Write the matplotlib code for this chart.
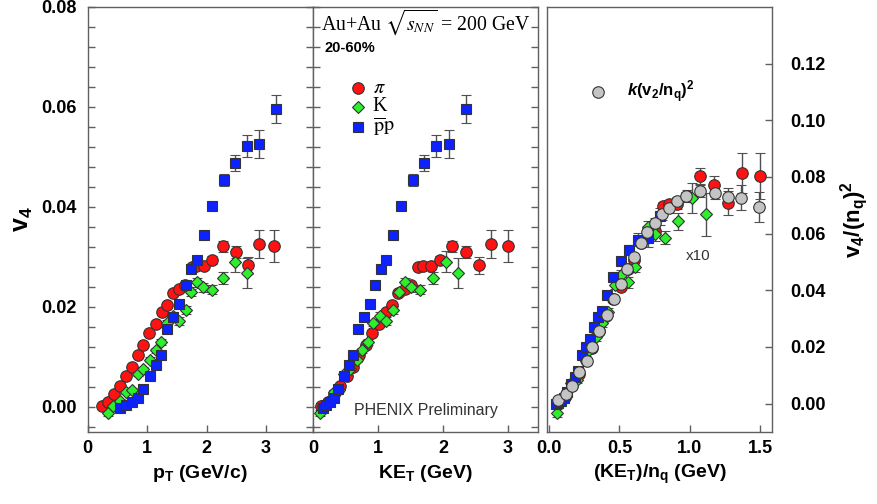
import matplotlib.pyplot as plt
from matplotlib.ticker import MultipleLocator, FormatStrFormatter

plt.rcParams['font.family'] = ['Liberation Sans', 'DejaVu Sans']
plt.rcParams['axes.labelweight'] = 'bold'
plt.rcParams['mathtext.fontset'] = 'custom'
plt.rcParams['mathtext.rm'] = 'Liberation Sans:bold'
plt.rcParams['mathtext.bf'] = 'Liberation Sans:bold'
plt.rcParams['mathtext.it'] = 'Liberation Sans:bold:italic'

# ---- pions ----
pt_pi = [0.24, 0.35, 0.45, 0.55, 0.65, 0.74, 0.84, 0.94, 1.04, 1.15, 1.25, 1.34,
         1.44, 1.54, 1.64, 1.75, 1.83, 1.95, 2.09, 2.28, 2.49, 2.69, 2.88, 3.14]
ke_pi = [0.13, 0.23, 0.33, 0.42, 0.52, 0.61, 0.71, 0.81, 0.91, 1.02, 1.12, 1.21,
         1.31, 1.41, 1.51, 1.62, 1.70, 1.82, 1.96, 2.14, 2.35, 2.55, 2.74, 3.00]
v4_pi = [0.0001, 0.0009, 0.0026, 0.0042, 0.0062, 0.0079, 0.0103, 0.0123, 0.0147, 0.0165,
         0.0190, 0.0203, 0.0227, 0.0235, 0.0244, 0.0279, 0.0282, 0.0281, 0.0293, 0.0321,
         0.0309, 0.0283, 0.0326, 0.0321]
err_pi = [0.0003] * 10 + [0.0004, 0.0004, 0.0004, 0.0004, 0.0005, 0.0005, 0.0005, 0.0006,
                          0.0008, 0.0011, 0.0012, 0.0017, 0.0028, 0.0032]

# ---- kaons ----
pt_k = [0.34, 0.43, 0.54, 0.64, 0.74, 0.84, 0.94, 1.05, 1.15, 1.24, 1.34, 1.44, 1.54,
        1.65, 1.74, 1.84, 1.94, 2.09, 2.28, 2.48, 2.68]
ke_k = [0.11, 0.16, 0.24, 0.32, 0.40, 0.48, 0.57, 0.67, 0.76, 0.84, 0.93, 1.03, 1.12,
        1.23, 1.32, 1.41, 1.51, 1.65, 1.84, 2.04, 2.23]
v4_k = [-0.0013, 0.0001, 0.0011, 0.0029, 0.0033, 0.0065, 0.0075, 0.0094, 0.0113, 0.0129,
        0.0167, 0.0181, 0.0171, 0.0193, 0.0229, 0.0249, 0.0239, 0.0234, 0.0257, 0.0290, 0.0267]
err_k = [0.0006, 0.0004, 0.0004, 0.0004, 0.0004, 0.0004, 0.0004, 0.0005, 0.0005, 0.0006,
         0.0006, 0.0008, 0.0008, 0.0008, 0.0007, 0.0009, 0.0009, 0.0009, 0.0012, 0.0021, 0.0030]

# ---- anti-protons + protons ----
pt_p = [0.55, 0.64, 0.74, 0.84, 0.94, 1.05, 1.15, 1.24, 1.34, 1.44, 1.54, 1.65, 1.74,
        1.84, 1.95, 2.09, 2.29, 2.48, 2.68, 2.89, 3.16]
ke_p = [0.15, 0.20, 0.26, 0.32, 0.39, 0.47, 0.55, 0.62, 0.70, 0.78, 0.87, 0.96, 1.04,
        1.13, 1.23, 1.35, 1.54, 1.71, 1.90, 2.10, 2.36]
v4_p = [-0.0003, 0.0003, 0.0009, 0.0017, 0.0036, 0.0062, 0.0084, 0.0103, 0.0155, 0.0179,
        0.0206, 0.0244, 0.0275, 0.0294, 0.0344, 0.0402, 0.0453, 0.0487, 0.0521, 0.0526, 0.0595]
err_p = [0.0003] * 13 + [0.0004, 0.0008, 0.0006, 0.0012, 0.0016, 0.0022, 0.0028, 0.0028]

# ---- scaled panel: (KE_T)/n_q vs v4/(n_q)^2 (x10) ----
x_pi = [0.065, 0.115, 0.165, 0.21, 0.26, 0.305, 0.355, 0.405, 0.455, 0.51, 0.56, 0.605,
        0.655, 0.705, 0.755, 0.81, 0.85, 0.91, 0.98, 1.07, 1.175, 1.275, 1.37, 1.50]
y_pi = [0.0003, 0.0023, 0.0065, 0.0105, 0.0155, 0.0198, 0.0258, 0.0308, 0.0368, 0.0413,
        0.0475, 0.0508, 0.0568, 0.0588, 0.0610, 0.0698, 0.0705, 0.0703, 0.0733, 0.0803,
        0.0773, 0.0708, 0.0815, 0.0803]
ey_pi = [0.0008] * 10 + [0.0010, 0.0010, 0.0010, 0.0010, 0.0013, 0.0013, 0.0013, 0.0015,
                         0.0020, 0.0028, 0.0030, 0.0043, 0.0070, 0.0080]

x_k = [0.053, 0.08, 0.119, 0.158, 0.198, 0.24, 0.284, 0.333, 0.379, 0.42, 0.467, 0.514,
       0.561, 0.614, 0.658, 0.706, 0.754, 0.827, 0.92, 1.018, 1.116]
y_k = [-0.0033, 0.0003, 0.0028, 0.0073, 0.0083, 0.0163, 0.0188, 0.0235, 0.0283, 0.0323,
       0.0418, 0.0453, 0.0428, 0.0483, 0.0573, 0.0623, 0.0598, 0.0585, 0.0643, 0.0725, 0.0668]
ey_k = [0.0015, 0.0010, 0.0010, 0.0010, 0.0010, 0.0010, 0.0010, 0.0013, 0.0013, 0.0015,
        0.0015, 0.0020, 0.0020, 0.0020, 0.0018, 0.0023, 0.0023, 0.0023, 0.0030, 0.0053, 0.0075]

x_p = [0.050, 0.066, 0.086, 0.107, 0.130, 0.157, 0.182, 0.206, 0.233, 0.260, 0.288, 0.320,
       0.346, 0.376, 0.409, 0.451, 0.512, 0.571, 0.634, 0.700, 0.786]
y_p = [-0.0003, 0.0003, 0.0010, 0.0019, 0.0040, 0.0069, 0.0093, 0.0114, 0.0172, 0.0199,
       0.0229, 0.0271, 0.0306, 0.0327, 0.0382, 0.0447, 0.0503, 0.0541, 0.0579, 0.0584, 0.0661]
ey_p = [0.0003] * 13 + [0.0004, 0.0009, 0.0007, 0.0013, 0.0018, 0.0024, 0.0031, 0.0031]

# k(v2/nq)^2 points
x_v2 = [0.066, 0.119, 0.161, 0.214, 0.268, 0.308, 0.354, 0.411, 0.458, 0.508, 0.555, 0.607,
        0.655, 0.697, 0.750, 0.804, 0.852, 0.911, 0.970, 1.072, 1.177, 1.274, 1.362, 1.493]
y_v2 = [0.0012, 0.0035, 0.0063, 0.0111, 0.0152, 0.0199, 0.0257, 0.0312, 0.0368, 0.0423,
        0.0476, 0.0519, 0.0566, 0.0605, 0.0636, 0.0669, 0.0692, 0.0716, 0.0733, 0.0751,
        0.0745, 0.0730, 0.0727, 0.0695]
ey_v2 = [0.0006] * 8 + [0.0008] * 4 + [0.0010, 0.0015, 0.0020, 0.0020, 0.0018, 0.0015,
                                         0.0015, 0.0020, 0.0022, 0.0030, 0.0043, 0.0053]

RED = '#ff1212'
GREEN = '#2df02d'
BLUE = '#0c22ff'
GRAY = '#c4c4c4'
EDGE = '#333333'
FRAME = '#606060'


def draw(ax, x, y, e, color, marker, ms):
    ax.errorbar(x, y, yerr=e, fmt=marker, ls='none', ms=ms, mfc=color, mec=EDGE, mew=0.8,
                ecolor='#505050', elinewidth=1, capsize=3.5, capthick=1)


def frame(ax):
    for s in ax.spines.values():
        s.set_color(FRAME)
        s.set_linewidth(1.0)
    ax.tick_params(which='both', direction='in', color=FRAME, width=1, labelsize=13)
    ax.tick_params(which='both', length=5)
    ax.tick_params(axis='x', which='both', top=False, pad=6)


def bold_ticks(ax):
    for lab in ax.get_xticklabels() + ax.get_yticklabels():
        lab.set_fontweight('bold')


fig = plt.figure(figsize=(8.78, 5.04), dpi=100)
ax1 = fig.add_axes([0.0997, 0.1429, 0.2568, 0.8433])
ax2 = fig.add_axes([0.3565, 0.1429, 0.2568, 0.8433])
ax3 = fig.add_axes([0.6230, 0.1429, 0.2563, 0.8433])

# left: v4 vs pT
draw(ax1, pt_pi, v4_pi, err_pi, RED, 'o', 8.3)
draw(ax1, pt_k, v4_k, err_k, GREEN, 'D', 6.5)
draw(ax1, pt_p, v4_p, err_p, BLUE, 's', 7.3)

# middle: v4 vs KE_T
draw(ax2, ke_pi, v4_pi, err_pi, RED, 'o', 8.3)
draw(ax2, ke_k, v4_k, err_k, GREEN, 'D', 6.5)
draw(ax2, ke_p, v4_p, err_p, BLUE, 's', 7.3)

# right: scaled
draw(ax3, x_pi, y_pi, ey_pi, RED, 'o', 8.3)
draw(ax3, x_k, y_k, ey_k, GREEN, 'D', 6.5)
draw(ax3, x_p, y_p, ey_p, BLUE, 's', 7.3)
draw(ax3, x_v2, y_v2, ey_v2, GRAY, 'o', 8.3)

for ax in (ax1, ax2):
    frame(ax)
    ax.set_ylim(-0.005, 0.08)
    ax.yaxis.set_major_locator(MultipleLocator(0.02))
    ax.yaxis.set_minor_locator(MultipleLocator(0.004))
    ax.xaxis.set_major_locator(MultipleLocator(1))
    ax.tick_params(axis='y', which='both', left=True, right=True)

ax1.set_xlim(0, 3.79)
ax2.set_xlim(0, 3.47)
ax1.yaxis.set_major_formatter(FormatStrFormatter('%.2f'))
ax1.tick_params(axis='y', pad=7.5)
ax2.tick_params(axis='y', labelleft=False)

frame(ax3)
ax3.set_xlim(-0.015, 1.585)
ax3.set_ylim(-0.01, 0.14)
ax3.xaxis.set_major_locator(MultipleLocator(0.5))
ax3.xaxis.set_major_formatter(FormatStrFormatter('%.1f'))
ax3.yaxis.set_major_formatter(FormatStrFormatter('%.2f'))
ax3.yaxis.tick_right()
ax3.yaxis.set_label_position('right')
ax3.tick_params(axis='y', left=False, right=True, pad=13)
ax3.set_yticks([0.0, 0.02, 0.04, 0.06, 0.08, 0.10, 0.12])

for ax in (ax1, ax2, ax3):
    bold_ticks(ax)

# axis labels
ax1.set_xlabel(r"p$_\mathregular{T}$ (GeV/c)", fontsize=14, labelpad=4)
ax2.set_xlabel(r"KE$_\mathregular{T}$ (GeV)", fontsize=14, labelpad=4)
ax3.set_xlabel(r"(KE$_\mathregular{T}$)/n$_\mathregular{q}$ (GeV)", fontsize=14, labelpad=4)
ax1.set_ylabel(r"v$_\mathregular{4}$", fontsize=18, labelpad=5)
ax3.set_ylabel(r"v$_\mathregular{4}$/(n$_\mathregular{q}$)$^\mathregular{2}$", fontsize=16,
               labelpad=9)

# annotations in the middle panel
ax2.text(0.035, 0.965, r"Au+Au $\sqrt{s_{NN}}$ = 200 GeV", transform=ax2.transAxes,
         family='Liberation Serif', math_fontfamily='stix', fontsize=14.2,
         va='center', ha='left')
ax2.text(0.053, 0.904, "20-60%", transform=ax2.transAxes, fontsize=10.5, weight='bold',
         va='center')
ax2.text(0.5, 0.05, "PHENIX Preliminary", transform=ax2.transAxes, fontsize=11.5,
         color='#333333', ha='center', va='center')

# hand-placed legend
leg_items = [(RED, 'o', 8.3, r"$\pi$", 0.809), (GREEN, 'D', 6.5, "K", 0.765),
             (BLUE, 's', 7.3, r"$\mathrm{\overline{p}p}$", 0.718)]
for color, marker, ms, label, ly in leg_items:
    ax2.plot([0.2], [ly], marker=marker, ms=ms, mfc=color, mec=EDGE, mew=0.8, ls='none',
             transform=ax2.transAxes, clip_on=False)
    ax2.text(0.265, ly, label, transform=ax2.transAxes, family='Liberation Serif',
             math_fontfamily='stix', fontsize=14.5, va='center', ha='left')

# right panel legend
ax3.plot([0.227], [0.8], marker='o', ms=8.3, mfc=GRAY, mec=EDGE, mew=0.8, ls='none',
         transform=ax3.transAxes)
ax3.text(0.356, 0.8, r"$\mathit{k}$(v$_\mathregular{2}$/n$_\mathregular{q}$)$^\mathregular{2}$",
         transform=ax3.transAxes, fontsize=12, weight='bold', va='center', ha='left')
ax3.text(0.671, 0.414, "x10", transform=ax3.transAxes, fontsize=11,
         color='#333333', ha='center', va='center')

fig.savefig('out.png', dpi=100)
